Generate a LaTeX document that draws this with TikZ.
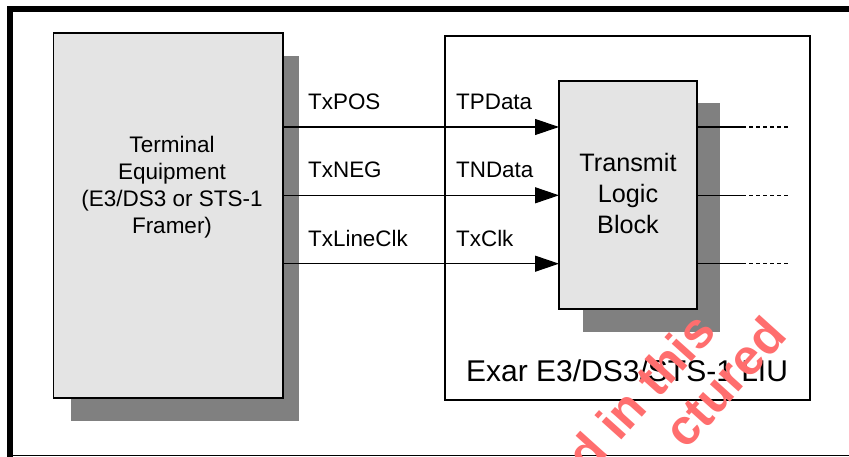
\documentclass[tikz,border=0pt]{standalone}
\usepackage{fontspec}
\setmainfont{Liberation Sans}
\usetikzlibrary{arrows.meta}
\definecolor{boxfill}{RGB}{228,228,228}
\definecolor{shadowgray}{RGB}{128,128,128}
\definecolor{wmred}{RGB}{255,110,110}
\tikzset{
  blockbox/.style={draw=black, line width=1.4pt, fill=boxfill, inner sep=0pt},
  shadowbox/.style={fill=shadowgray, draw=none},
  sig/.style={line width=1.2pt, -{Triangle[length=24pt,width=16pt]}},
  outline/.style={line width=1.2pt},
  outdash/.style={line width=1.2pt, dash pattern=on 4pt off 3pt},
  lbl/.style={font=\fontsize{22.4}{27}\selectfont, inner sep=0pt, anchor=base west},
  wm/.style={font=\fontsize{50}{55}\selectfont\bfseries, text=wmred, inner sep=0pt, anchor=base east, rotate=48}
}
\begin{document}
\begin{tikzpicture}[x=1pt,y=-1pt]
\useasboundingbox (0,0) rectangle (849,457);
\clip (0,0) rectangle (849,457);
% outer frame
\fill[black] (7,6) rectangle (849,12);
\fill[black] (7,6) rectangle (13,457);
\draw[line width=1.2pt] (13,455.6) -- (849,455.6);
% terminal equipment
\fill[shadowbox] (71,56) rectangle (299,421);
\draw[blockbox] (53.5,33) rectangle (283,398);
\node[inner sep=0pt, outer sep=0pt, minimum width=229.5pt, minimum height=365pt] (term) at (168.25,215.5) {};
\node[align=center, font=\fontsize{22.5}{27}\selectfont, inner sep=0pt, anchor=base] (termtxt) at (172,233.3)
  {Terminal\\Equipment\\(E3/DS3 or STS-1\\Framer)};
% LIU box
\draw[outline, fill=white] (445,36) rectangle (810,400);
\node[inner sep=0pt, outer sep=0pt, minimum width=365pt, minimum height=364pt] (liu) at (627.5,218) {};
\node[font=\fontsize{30}{36}\selectfont, inner sep=0pt, anchor=base west] (liutxt) at (466,381) {Exar E3/DS3/STS-1 LIU};
% transmit logic block
\fill[shadowbox] (583,103) rectangle (720,332);
\draw[blockbox, line width=1.3pt] (559,81) rectangle (697,309);
\node[inner sep=0pt, outer sep=0pt, minimum width=138pt, minimum height=228pt] (tlb) at (628,195) {};
\node[align=center, font=\fontsize{25.2}{31}\selectfont, inner sep=0pt, anchor=base] (tlbtxt) at (628,233.3)
  {Transmit\\Logic\\Block};
% signals
\coordinate (y1) at (0,127);
\coordinate (y2) at (0,195.3);
\coordinate (y3) at (0,263.7);
\draw[sig] (term.east |- y1) -- (tlb.west |- y1);
\draw[sig] (term.east |- y2) -- (tlb.west |- y2);
\draw[sig] (term.east |- y3) -- (tlb.west |- y3);
\node[lbl] (l1) at (308,110) {TxPOS};
\node[lbl] (l2) at (308,178) {TxNEG};
\node[lbl] (l3) at (308,247) {TxLineClk};
\node[lbl] (r1) at (456,110) {TPData};
\node[lbl] (r2) at (456,178) {TNData};
\node[lbl] (r3) at (456,247) {TxClk};
% outputs
\coordinate (m1) at (742,127);
\coordinate (m2) at (742,195.3);
\coordinate (m3) at (742,263.7);
\coordinate (e1) at (788,127);
\coordinate (e2) at (788,195.3);
\coordinate (e3) at (788,263.7);
\draw[outline] (tlb.east |- m1) -- (m1);
\draw[outline] (tlb.east |- m2) -- (m2);
\draw[outline] (tlb.east |- m3) -- (m3);
\draw[outdash] (m1) -- (e1);
\draw[outdash] (m2) -- (e2);
\draw[outdash] (m3) -- (e3);
% watermark
\node[wm] (wm1) at (718,333) {d in this};
\node[wm] (wm2) at (789,337) {ctured};
\end{tikzpicture}
\end{document}
